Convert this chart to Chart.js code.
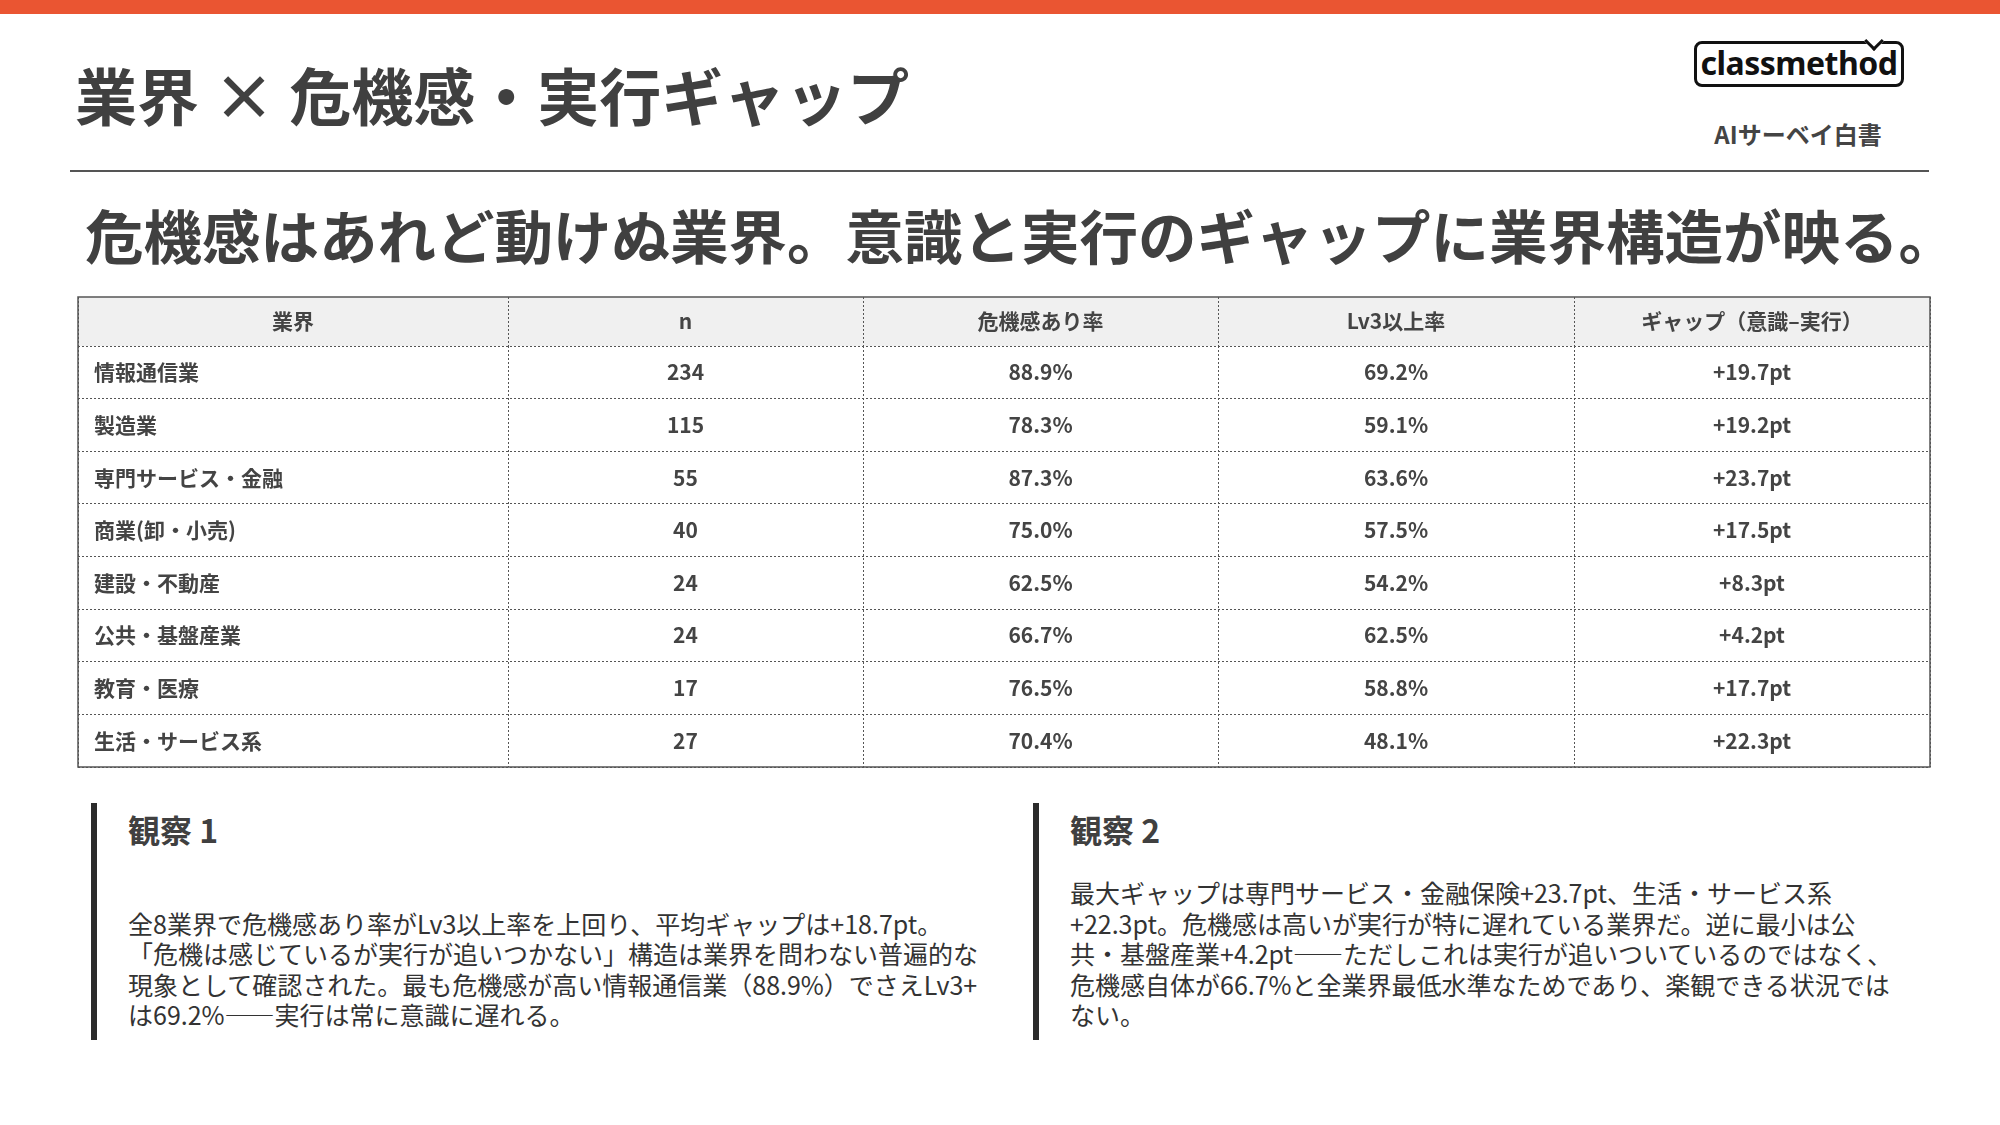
<!DOCTYPE html>
<html lang="ja">
<head>
<meta charset="utf-8">
<title>業界 × 危機感・実行ギャップ</title>
<script src="https://cdn.jsdelivr.net/npm/chart.js@4.4.1/dist/chart.umd.min.js"></script>
<style>
  html, body { margin: 0; padding: 0; background: #fff; }
  body {
    width: 2000px; height: 1125px; position: relative; overflow: hidden;
    font-family: "Noto Sans CJK JP", "Noto Sans", sans-serif; color: #404040;
  }
  .topbar { position: absolute; left: 0; top: 0; width: 2000px; height: 14px; background: #ea5532; }
  .title { position: absolute; left: 75px; top: 63px; margin: 0; font-size: 62px; line-height: 62px; font-weight: 700; white-space: nowrap; }
  .logo {
    position: absolute; left: 1694px; top: 41px; width: 210px; height: 46px; box-sizing: border-box;
    border: 3px solid #111; border-radius: 8px; text-align: center;
    font-family: "Noto Sans", sans-serif; font-weight: 700; font-size: 32px; line-height: 38px;
    letter-spacing: -0.5px; color: #111;
  }
  .logo::after {
    content: ""; position: absolute; right: 20px; top: -10px; width: 11px; height: 11px;
    background: #fff; border-right: 3px solid #111; border-bottom: 3px solid #111; transform: rotate(45deg);
  }
  .brand { position: absolute; left: 1648px; top: 122px; width: 300px; text-align: center; font-size: 24px; line-height: 24px; font-weight: 700; color: #444; }
  .rule { position: absolute; left: 70px; top: 170px; width: 1859px; height: 2px; background: #555; }
  .subtitle { position: absolute; left: 85px; top: 205px; margin: 0; font-size: 58.5px; line-height: 58px; font-weight: 700; white-space: nowrap; }
  .table-wrap { position: absolute; left: 77px; top: 296px; width: 1854px; height: 472px; }
  .table-wrap canvas { display: block; }
  .obs {
    position: absolute; top: 803px; height: 237px; width: 900px; box-sizing: border-box;
    border-left: 6px solid #2b2b2b; padding-left: 31px; padding-bottom: 10px;
    display: flex; flex-direction: column;
  }
  .obs h3 { margin: 8px 0 0 0; font-size: 32px; line-height: 36px; font-weight: 700; color: #404040; }
  .obs p { margin: auto 0 0 0; font-size: 25px; line-height: 30.6px; font-weight: 400; color: #333; white-space: nowrap; }
</style>
</head>
<body>
<div class="topbar"></div>
<h1 class="title">業界 × 危機感・実行ギャップ</h1>
<div class="logo">classmethod</div>
<div class="brand">AIサーベイ白書</div>
<div class="rule"></div>
<h2 class="subtitle">危機感はあれど動けぬ業界。意識と実行のギャップに業界構造が映る。</h2>

<div class="table-wrap"><canvas id="gapTable" width="1854" height="472"></canvas></div>

<div class="obs" style="left:91px">
  <h3>観察 1</h3>
  <p>全8業界で危機感あり率がLv3以上率を上回り、平均ギャップは+18.7pt。<br>「危機は感じているが実行が追いつかない」構造は業界を問わない普遍的な<br>現象として確認された。最も危機感が高い情報通信業（88.9%）でさえLv3+<br>は69.2%――実行は常に意識に遅れる。</p>
</div>
<div class="obs" style="left:1033px">
  <h3>観察 2</h3>
  <p>最大ギャップは専門サービス・金融保険+23.7pt、生活・サービス系<br>+22.3pt。危機感は高いが実行が特に遅れている業界だ。逆に最小は公<br>共・基盤産業+4.2pt――ただしこれは実行が追いついているのではなく、<br>危機感自体が66.7%と全業界最低水準なためであり、楽観できる状況では<br>ない。</p>
</div>

<script>
// データ
const industries = ['情報通信業', '製造業', '専門サービス・金融', '商業(卸・小売)', '建設・不動産', '公共・基盤産業', '教育・医療', '生活・サービス系'];
const sampleN = [234, 115, 55, 40, 24, 24, 17, 27];
const crisisRate = [88.9, 78.3, 87.3, 75.0, 62.5, 66.7, 76.5, 70.4];
const lv3Rate = [69.2, 59.1, 63.6, 57.5, 54.2, 62.5, 58.8, 48.1];
const gapPt = [19.7, 19.2, 23.7, 17.5, 8.3, 4.2, 17.7, 22.3];
const columnHeaders = ['業界', 'n', '危機感あり率', 'Lv3以上率', 'ギャップ（意識–実行）'];

// 列の境界（先頭列だけ広い）
const colEdges = [0, 430, 785, 1140, 1496, 1852];
const colCenter = j => (colEdges[j] + colEdges[j + 1]) / 2;

const valueColumns = [
  { values: sampleN, fmt: v => String(v) },
  { values: crisisRate, fmt: v => v.toFixed(1) + '%' },
  { values: lv3Rate, fmt: v => v.toFixed(1) + '%' },
  { values: gapPt, fmt: v => '+' + v.toFixed(1) + 'pt' }
];

const cellFont = 'bold 21px "Noto Sans CJK JP"';
const lineColor = '#555';

// ヘッダー背景・セル文字・外枠
const tablePlugin = {
  id: 'tableCells',
  beforeDraw(chart) {
    const { ctx, scales: { x } } = chart;
    ctx.save();
    ctx.fillStyle = '#f0f0f0';
    ctx.fillRect(x.left, x.top, x.right - x.left, x.bottom - x.top);
    ctx.restore();
  },
  afterDatasetsDraw(chart) {
    const { ctx, chartArea, scales: { x } } = chart;
    ctx.save();
    ctx.font = cellFont;
    ctx.fillStyle = '#444';
    ctx.textAlign = 'center';
    ctx.textBaseline = 'middle';
    columnHeaders.forEach((h, j) => {
      ctx.fillText(h, x.getPixelForValue(colCenter(j)), (x.top + x.bottom) / 2);
    });
    chart.data.datasets.forEach((ds, k) => {
      chart.getDatasetMeta(k).data.forEach((pt, i) => {
        ctx.fillText(ds.fmt(ds.data[i].v), pt.x, pt.y);
      });
    });
    ctx.strokeStyle = lineColor;
    ctx.lineWidth = 1.5;
    ctx.strokeRect(x.left, x.top, x.right - x.left, chartArea.bottom - x.top);
    ctx.restore();
  }
};

new Chart(document.getElementById('gapTable'), {
  type: 'scatter',
  data: {
    labels: industries,
    datasets: valueColumns.map((col, j) => ({
      label: columnHeaders[j + 1],
      data: col.values.map((v, i) => ({ x: colCenter(j + 1), y: industries[i], v })),
      pointRadius: 0,
      fmt: col.fmt
    }))
  },
  options: {
    responsive: false,
    devicePixelRatio: 1,
    animation: false,
    events: [],
    layout: { padding: 1 },
    plugins: { legend: { display: false }, tooltip: { enabled: false } },
    scales: {
      x: {
        type: 'linear',
        position: 'top',
        min: 0,
        max: colEdges[colEdges.length - 1],
        afterBuildTicks: s => { s.ticks = colEdges.map(v => ({ value: v })); },
        ticks: { display: false },
        grid: { color: lineColor, lineWidth: 1, drawTicks: true, tickLength: 49, tickColor: lineColor, tickBorderDash: [2, 2] },
        border: { display: false, dash: [2, 2] }
      },
      y: {
        type: 'category',
        labels: industries,
        offset: true,
        // 行ラベルはセル内に描くので軸の幅・余白は不要
        afterFit: s => { s.width = 0; s.paddingTop = 0; s.paddingBottom = 0; },
        ticks: { mirror: true, padding: 16, font: { family: 'Noto Sans CJK JP', size: 21, weight: 'bold' }, color: '#444' },
        grid: { offset: true, color: lineColor, lineWidth: 1, drawTicks: false },
        border: { display: false, dash: [2, 2] }
      }
    }
  },
  plugins: [tablePlugin]
});
</script>
</body>
</html>
